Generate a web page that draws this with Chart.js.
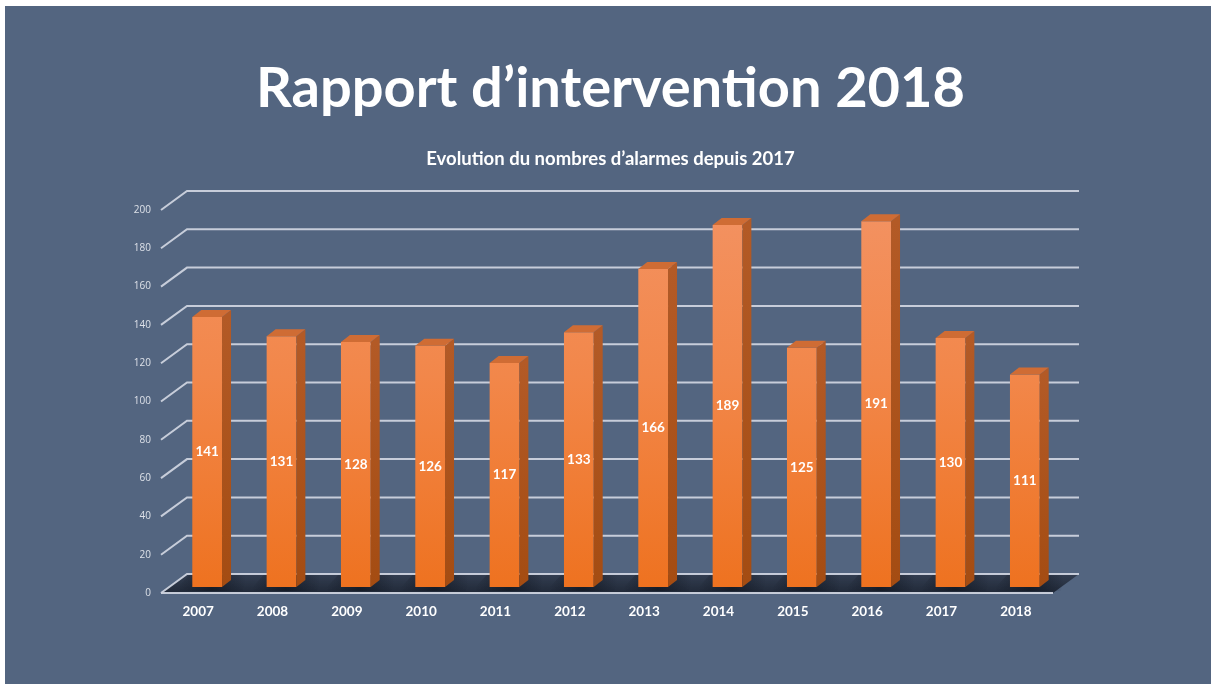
<!DOCTYPE html>
<html>
<head>
<meta charset="utf-8">
<script src="https://cdn.jsdelivr.net/npm/chart.js@4/dist/chart.umd.min.js"></script>
<style>
  html, body { margin: 0; padding: 0; background: #ffffff; }
  body { width: 1213px; height: 684px; position: relative; overflow: hidden; }
  #slide { position: absolute; left: 5px; top: 6px; width: 1206px; height: 678px; background: #536580; }
  canvas { position: absolute; left: 0; top: 0; }
  .title { position: absolute; left: 0; width: 1213px; text-align: center; color: #ffffff; font-family: Lato, "Open Sans", sans-serif; font-weight: 700; white-space: nowrap; }
  #t1 { top: 51px; font-size: 56px; line-height: 70px; left: 4px; }
  #t2 { top: 146px; font-size: 18.5px; line-height: 24px; left: 4px; }
</style>
</head>
<body>
<div id="slide"></div>
<canvas id="c" width="1213" height="684"></canvas>
<div class="title" id="t1">Rapport d’intervention 2018</div>
<div class="title" id="t2">Evolution du nombres d’alarmes depuis 2017</div>
<script>
const categories = ["2007","2008","2009","2010","2011","2012","2013","2014","2015","2016","2017","2018"];
const alarmes = [141, 131, 128, 126, 117, 133, 166, 189, 125, 191, 130, 111];
const yTicks = [0, 20, 40, 60, 80, 100, 120, 140, 160, 180, 200];

// depth offsets (pixels)
const BACK = {dx: 17, dy: -13};
const FRONT = {dx: -9, dy: 6};
const SIDE = {dx: 9, dy: -7};

const gridColor = "rgba(205,211,222,0.95)";

const threeD = {
  id: "threeD",
  beforeDatasetsDraw(chart) {
    const {ctx, chartArea: a, scales: {y}} = chart;
    ctx.save();
    // floor
    const b = a.bottom;
    ctx.beginPath();
    ctx.moveTo(a.left + FRONT.dx, b + FRONT.dy);
    ctx.lineTo(a.right + FRONT.dx, b + FRONT.dy);
    ctx.lineTo(a.right + BACK.dx, b + BACK.dy);
    ctx.lineTo(a.left + BACK.dx, b + BACK.dy);
    ctx.closePath();
    const fg = ctx.createLinearGradient(0, b + BACK.dy, 0, b + FRONT.dy);
    fg.addColorStop(0, "rgba(48,58,76,0.9)");
    fg.addColorStop(1, "rgba(30,38,52,0.95)");
    ctx.fillStyle = fg;
    ctx.fill();
    // grid lines on back wall + diagonals on left wall
    ctx.strokeStyle = gridColor;
    ctx.lineWidth = 2;
    yTicks.forEach(v => {
      const py = y.getPixelForValue(v);
      ctx.beginPath();
      ctx.moveTo(a.left + FRONT.dx, py + FRONT.dy);
      ctx.lineTo(a.left + BACK.dx, py + BACK.dy);
      ctx.lineTo(a.right + BACK.dx, py + BACK.dy);
      ctx.stroke();
    });
    // front floor edge
    ctx.beginPath();
    ctx.moveTo(a.left + FRONT.dx, b + FRONT.dy);
    ctx.lineTo(a.right + FRONT.dx, b + FRONT.dy);
    ctx.stroke();
    // bar shadows on floor
    const meta = chart.getDatasetMeta(0);
    meta.data.forEach(bar => {
      const w = bar.width;
      const g = ctx.createLinearGradient(bar.x - w, 0, bar.x + w * 1.3, 0);
      g.addColorStop(0, "rgba(10,14,22,0)");
      g.addColorStop(0.5, "rgba(10,14,22,0.55)");
      g.addColorStop(1, "rgba(10,14,22,0)");
      ctx.fillStyle = g;
      ctx.beginPath();
      ctx.moveTo(bar.x - w * 1.1, b + 4);
      ctx.lineTo(bar.x + w * 1.2, b + 4);
      ctx.lineTo(bar.x + w * 1.4, b - 12);
      ctx.lineTo(bar.x - w * 0.6, b - 12);
      ctx.closePath();
      ctx.fill();
    });
    ctx.restore();
  },
  afterDatasetsDraw(chart) {
    const {ctx} = chart;
    const meta = chart.getDatasetMeta(0);
    ctx.save();
    meta.data.forEach((bar, i) => {
      const w = bar.width, x0 = bar.x - w / 2, x1 = bar.x + w / 2, top = bar.y, base = bar.base;
      // side face
      const sg = ctx.createLinearGradient(0, top, 0, base);
      sg.addColorStop(0, "#b35a26");
      sg.addColorStop(1, "#a44c12");
      ctx.fillStyle = sg;
      ctx.beginPath();
      ctx.moveTo(x1, top);
      ctx.lineTo(x1 + SIDE.dx, top + SIDE.dy);
      ctx.lineTo(x1 + SIDE.dx, base + SIDE.dy);
      ctx.lineTo(x1, base);
      ctx.closePath();
      ctx.fill();
      // top face
      ctx.fillStyle = "#cf6c34";
      ctx.beginPath();
      ctx.moveTo(x0, top);
      ctx.lineTo(x0 + SIDE.dx, top + SIDE.dy);
      ctx.lineTo(x1 + SIDE.dx, top + SIDE.dy);
      ctx.lineTo(x1, top);
      ctx.closePath();
      ctx.fill();
      // value label
      ctx.fillStyle = "#ffffff";
      ctx.font = "bold 13.5px Lato, 'Open Sans', sans-serif";
      ctx.textAlign = "center";
      ctx.textBaseline = "middle";
      ctx.fillText(String(alarmes[i]), bar.x, (top + base) / 2);
    });
    ctx.restore();
  }
};

const ctx = document.getElementById("c").getContext("2d");
new Chart(ctx, {
  type: "bar",
  data: {
    labels: categories,
    datasets: [{
      label: "Alarmes",
      data: alarmes,
      backgroundColor(c) {
        const area = c.chart.chartArea;
        if (!area) return "#ef7d33";
        const g = c.chart.ctx.createLinearGradient(0, area.top, 0, area.bottom);
        g.addColorStop(0, "#f39262");
        g.addColorStop(0.45, "#f2874a");
        g.addColorStop(1, "#ee7220");
        return g;
      },
      borderWidth: 0,
      barPercentage: 0.8,
      categoryPercentage: 0.5
    }]
  },
  options: {
    responsive: false,
    animation: false,
    layout: { padding: { left: 110, right: 151, top: 204, bottom: 57 } },
    plugins: { legend: { display: false }, tooltip: { enabled: false }, title: { display: false } },
    scales: {
      x: {
        grid: { display: false, drawTicks: false },
        border: { display: false },
        ticks: {
          color: "#ffffff",
          font: { family: "Lato, 'Open Sans', sans-serif", size: 13.5, weight: "bold" },
          padding: 17,
          labelOffset: -9,
          maxRotation: 0
        },
        afterFit(s) { s.height = 40; }
      },
      y: {
        min: 0,
        max: 200,
        afterBuildTicks(s) { s.ticks = yTicks.map(v => ({ value: v })); },
        grid: { display: false, drawTicks: false },
        border: { display: false },
        ticks: {
          color: "#dde1e8",
          font: { family: "'Open Sans', sans-serif", size: 10 },
          padding: 19,
          labelOffset: 6
        },
        afterFit(s) { s.width = 60; }
      }
    }
  },
  plugins: [threeD]
});
</script>
</body>
</html>
